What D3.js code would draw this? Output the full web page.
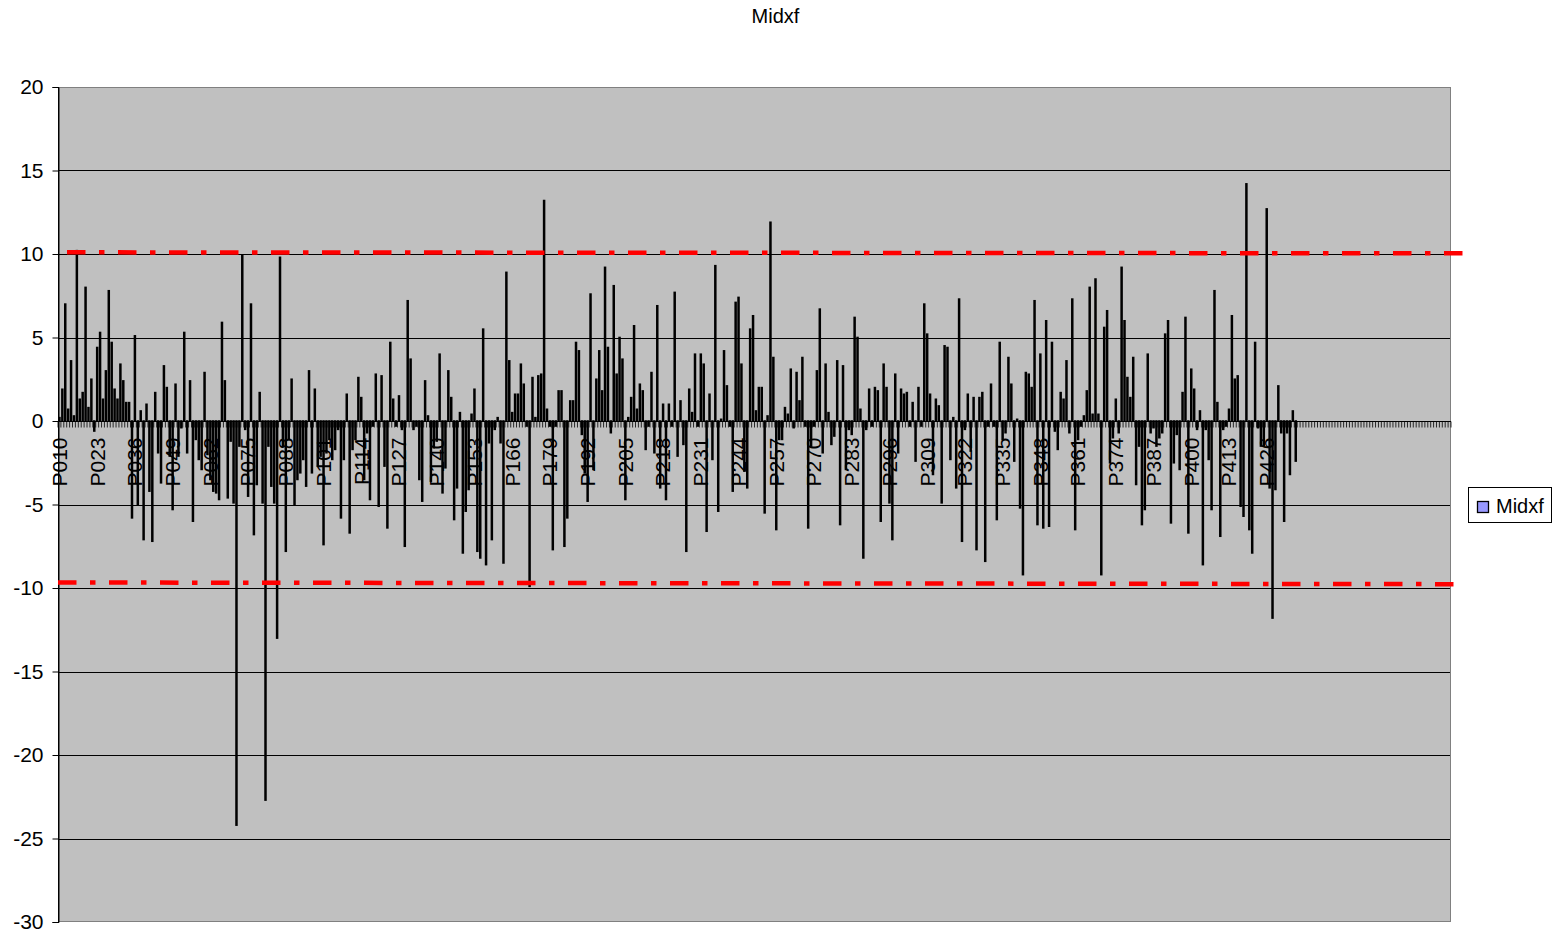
<!DOCTYPE html>
<html>
<head>
<meta charset="utf-8">
<script src="https://cdn.jsdelivr.net/npm/d3@7"></script>
<style>
  html, body { margin: 0; padding: 0; background: #fff; }
  svg { display: block; font-family: "Liberation Sans", Arial, sans-serif; }
</style>
</head>
<body>
<svg id="chart" width="1561" height="934"></svg>
<script>
// ---------------- data ----------------
const chartTitle = "Midxf";
const seriesName = "Midxf";
const categoryCount = 480;
const categoryStart = 10;
const categories = d3.range(categoryCount).map(i => "P" + String(categoryStart + i).padStart(3, "0"));
const labelEvery = 13;

const values = [
 0.2,
 1.9,7.0,0.7,3.6,0.3,10.2,1.3,1.7,8.0,0.8,
 2.5,-0.6,4.4,5.3,1.3,3.0,7.8,4.7,1.9,1.3,
 3.4,2.4,1.1,1.1,-5.8,5.1,-5.0,0.6,-7.1,1.0,
 -4.2,-7.2,1.7,-1.9,-3.7,3.3,2.0,-2.1,-5.3,2.2,
 -2.1,-0.4,5.3,-1.9,2.4,-6.0,-1.1,-2.3,-2.9,2.9,
 -2.0,-3.5,-4.2,-4.3,-4.7,5.9,2.4,-4.6,-1.2,-4.9,
 -24.2,-1.5,9.9,-0.5,-4.5,7.0,-6.8,-3.8,1.7,-4.9,
 -22.7,-1.5,-3.9,-4.9,-13.0,9.8,-1.5,-7.8,-1.1,2.5,
 -5.0,-3.5,-3.1,-2.3,-3.9,3.0,-3.1,1.9,-2.7,-2.1,
 -7.4,-1.9,-1.1,-2.3,-1.7,-0.5,-5.8,-2.3,1.6,-6.7,
 -1.7,-1.1,2.6,1.4,-3.5,-0.7,-4.7,-0.3,2.8,-5.1,
 2.7,-2.7,-6.4,4.7,1.3,-0.3,1.5,-0.5,-7.5,7.2,
 3.7,-0.5,-0.3,-3.5,-4.8,2.4,0.3,-3.6,-1.6,-1.2,
 4.0,-4.3,-2.8,3.0,1.4,-5.9,-4.0,0.5,-7.9,-5.4,
 -4.1,0.4,1.9,-7.8,-8.2,5.5,-8.6,-1.3,-7.1,-0.5,
 0.2,-1.3,-8.5,8.9,3.6,0.5,1.6,1.6,3.4,2.2,
 -0.3,-9.9,2.6,0.2,2.7,2.8,13.2,0.7,-0.3,-7.7,
 -0.3,1.8,1.8,-7.5,-5.8,1.2,1.2,4.7,4.2,-0.8,
 -3.1,-4.8,7.6,-2.9,2.5,4.2,1.8,9.2,4.4,-0.7,
 8.1,2.8,5.0,3.7,-4.7,0.2,1.4,5.7,0.7,2.2,
 1.8,-1.7,-0.3,2.9,-1.9,6.9,-4.0,1.0,-4.7,1.0,
 -0.3,7.7,-2.1,1.2,-1.4,-7.8,1.9,0.5,4.0,-0.3,
 4.0,3.4,-6.6,1.6,-2.3,9.3,-5.4,0.1,4.2,2.1,
 -0.3,-4.2,7.1,7.4,3.4,-3.0,-4.0,5.5,6.3,0.6,
 2.0,2.0,-5.5,0.3,11.9,3.8,-6.5,-1.1,-1.1,0.8,
 0.4,3.1,-0.4,2.9,1.2,3.8,-0.3,-6.4,-1.5,-0.3,
 3.0,6.7,-1.9,3.4,0.5,-1.4,-0.9,3.6,-6.2,3.3,
 -2.9,-0.5,-0.8,6.2,5.0,0.7,-8.2,-0.5,1.9,-0.3,
 2.0,1.8,-6.0,3.4,2.0,-4.9,-7.1,2.8,-1.9,1.9,
 1.6,1.7,-0.3,1.1,-2.4,2.0,-0.3,7.0,5.2,1.6,
 -3.2,1.3,0.9,-4.9,4.5,4.4,-2.3,0.2,-4.0,7.3,
 -7.2,-0.5,1.6,-1.8,1.4,-7.7,1.4,1.7,-8.4,-0.3,
 2.2,-0.3,-5.9,4.7,-1.1,-0.7,3.8,2.2,-2.4,0.1,
 -5.2,-9.2,2.9,2.8,2.0,7.2,-6.2,4.0,-6.4,6.0,
 -6.3,4.7,-0.6,-1.7,1.7,1.3,3.6,-0.7,7.3,-6.5,
 -1.1,-0.3,0.3,1.8,8.0,0.4,8.5,0.4,-9.2,5.6,
 6.6,-2.5,-1.0,1.3,-0.7,9.2,6.0,2.6,1.4,3.8,
 -3.8,-1.5,-6.2,-5.3,4.0,-0.7,-0.4,-1.5,-1.0,-0.7,
 5.2,6.0,-6.1,-2.5,-0.8,-2.9,1.7,6.2,-6.7,3.1,
 1.9,-0.5,0.6,-8.6,-0.5,-2.3,-5.3,7.8,1.1,-6.9,
 -0.5,-0.3,0.7,6.3,2.5,2.7,-5.1,-5.7,14.2,-6.5,
 -7.9,4.7,-0.4,-1.5,-1.5,12.7,-4.0,-11.8,-4.1,2.1,
 -0.7,-6.0,-0.7,-3.2,0.6,-2.4
];

const yTicks = [-30, -25, -20, -15, -10, -5, 0, 5, 10, 15, 20];
const yDomain = [-30, 20];

// Hand-drawn limit lines (value at start / end, slot index at start / end)
const limitStartValues = [10.1, -9.67];
const limitEndValues   = [10.04, -9.77];
const limitStartSlots  = [3.1, 0];
const limitEndSlots    = [485.9, 483.1];

// ---------------- layout ----------------
const W = 1561, H = 934;
const plot = { left: 58, right: 1451, top: 87, bottom: 922 };
const font = "'Liberation Sans', Arial, sans-serif";

const svg = d3.select("#chart");
svg.append("rect").attr("width", W).attr("height", H).attr("fill", "#fff");

const x = d3.scaleBand().domain(categories).range([plot.left, plot.right]).padding(0);
const xSlot = d3.scaleLinear().domain([0, categoryCount]).range([plot.left, plot.right]);
const y = d3.scaleLinear().domain(yDomain).range([plot.bottom, plot.top]);

// plot background
svg.append("rect")
  .attr("x", plot.left).attr("y", plot.top)
  .attr("width", plot.right - plot.left).attr("height", plot.bottom - plot.top)
  .attr("fill", "#c0c0c0");

// gridlines
svg.append("g").selectAll("line")
  .data(yTicks.filter(t => t !== yDomain[0] && t !== yDomain[1] && t !== 0))
  .join("line")
  .attr("x1", plot.left).attr("x2", plot.right)
  .attr("y1", d => Math.round(y(d)) + 0.5).attr("y2", d => Math.round(y(d)) + 0.5)
  .attr("stroke", "#000").attr("stroke-width", 1);

// plot border (gray)
svg.append("rect")
  .attr("x", plot.left + 0.5).attr("y", plot.top + 0.5)
  .attr("width", plot.right - plot.left - 1).attr("height", plot.bottom - plot.top - 1)
  .attr("fill", "none").attr("stroke", "#808080").attr("stroke-width", 1);

// bars (thin blue fill inside a black outline, which reads as black at this width)
const bw = 0.9;
svg.append("g").selectAll("rect")
  .data(values.map((v, i) => ({ c: categories[i], v })))
  .join("rect")
  .attr("x", d => x(d.c) + x.bandwidth() / 2 - bw / 2)
  .attr("width", bw)
  .attr("y", d => y(Math.max(0, d.v)))
  .attr("height", d => Math.abs(y(d.v) - y(0)))
  .attr("fill", "#9999ff")
  .attr("stroke", "#000")
  .attr("stroke-width", 1.6);

// category axis at zero
const y0 = Math.round(y(0)) + 0.5;
svg.append("line")
  .attr("x1", plot.left).attr("x2", plot.right)
  .attr("y1", y0).attr("y2", y0)
  .attr("stroke", "#000").attr("stroke-width", 1);

// category tick marks at slot boundaries
svg.append("g").selectAll("line")
  .data(d3.range(categoryCount + 1))
  .join("line")
  .attr("x1", i => xSlot(i)).attr("x2", i => xSlot(i))
  .attr("y1", y0).attr("y2", y0 + 6)
  .attr("stroke", "#000").attr("stroke-width", 0.8);

// category labels
svg.append("g").selectAll("text")
  .data(categories.filter((c, i) => i % labelEvery === 0 && i < values.length))
  .join("text")
  .attr("transform", c => `translate(${x(c) + x.bandwidth() / 2},${y0 + 16}) rotate(-90)`)
  .attr("text-anchor", "end")
  .attr("dy", "0.35em")
  .attr("font-family", font)
  .attr("font-size", 21)
  .attr("fill", "#000")
  .text(c => c);

// value axis
const yAxis = d3.axisLeft(y).tickValues(yTicks).tickSize(6).tickPadding(9).tickFormat(d => String(d));
const gy = svg.append("g").attr("transform", `translate(${plot.left + 0.5},0)`).call(yAxis);
gy.select(".domain").attr("stroke", "#000");
gy.selectAll(".tick line").attr("stroke", "#000");
gy.selectAll(".tick text").attr("font-family", font).attr("font-size", 21).attr("fill", "#000");
svg.append("line")
  .attr("x1", plot.left + 0.5).attr("x2", plot.left + 0.5)
  .attr("y1", plot.top).attr("y2", plot.bottom)
  .attr("stroke", "#000").attr("stroke-width", 1);

// red dash-dot limit lines
svg.append("g").selectAll("line")
  .data(d3.range(limitStartValues.length))
  .join("line")
  .attr("x1", k => xSlot(limitStartSlots[k]))
  .attr("x2", k => xSlot(limitEndSlots[k]))
  .attr("y1", k => y(limitStartValues[k]))
  .attr("y2", k => y(limitEndValues[k]))
  .attr("stroke", "#ff0000")
  .attr("stroke-width", 4.5)
  .attr("stroke-dasharray", "18.5,13.5,5.5,13.5");

// title
svg.append("text")
  .attr("x", 775.5).attr("y", 22.5)
  .attr("text-anchor", "middle")
  .attr("font-family", font).attr("font-size", 20).attr("fill", "#000")
  .text(chartTitle);

// legend
const lg = svg.append("g");
lg.append("rect").attr("x", 1468.5).attr("y", 487.5).attr("width", 83).attr("height", 35)
  .attr("fill", "#fff").attr("stroke", "#000").attr("stroke-width", 1);
lg.append("rect").attr("x", 1477.5).attr("y", 501.5).attr("width", 11).attr("height", 11)
  .attr("fill", "#9999ff").attr("stroke", "#000").attr("stroke-width", 1.3);
lg.append("text").attr("x", 1496).attr("y", 513)
  .attr("font-family", font).attr("font-size", 20).attr("fill", "#000")
  .text(seriesName);
</script>
</body>
</html>
